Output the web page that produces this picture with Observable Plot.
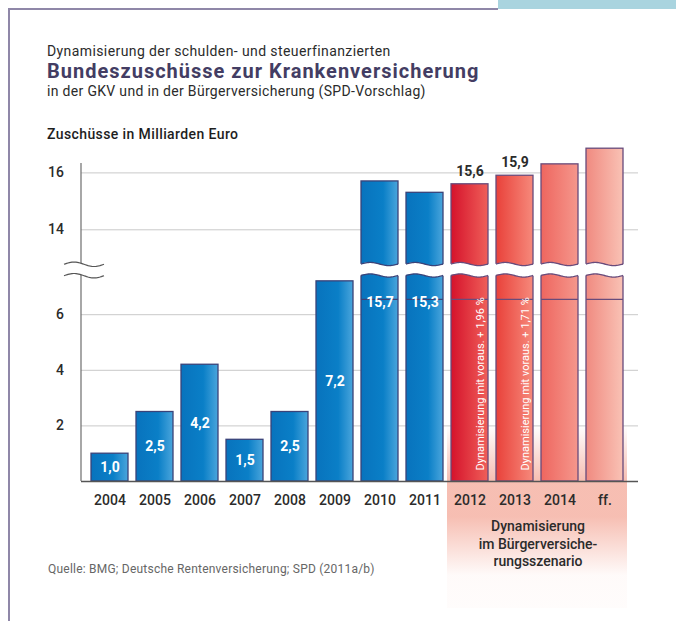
<!DOCTYPE html>
<html>
<head>
<meta charset="utf-8">
<script src="https://cdn.jsdelivr.net/npm/d3@7"></script>
<script src="https://cdn.jsdelivr.net/npm/@observablehq/plot@0.6"></script>
<style>
html, body { margin: 0; padding: 0; background: #ffffff; }
#wrap { position: relative; width: 676px; height: 621px; overflow: hidden; font-family: Roboto, "Noto Sans", sans-serif; }
#chart { position: absolute; left: 0; top: 0; }
.t { position: absolute; white-space: nowrap; line-height: 1; color: #2b2b2b; }
</style>
</head>
<body>
<div id="wrap">
  <div style="position:absolute;left:498px;top:0;width:178px;height:9px;background:#a9d4df"></div>
  <div style="position:absolute;left:8px;top:8px;width:490px;height:1.5px;background:#8f87a8"></div>
  <div style="position:absolute;left:8px;top:8px;width:1.5px;height:613px;background:#8f87a8"></div>
  <div id="chart"></div>
  <div class="t" id="kicker" style="left:47px;top:43.8px;font-size:14px;letter-spacing:0.4px;"></div>
  <div class="t" id="title" style="left:47px;top:61px;font-size:20px;font-weight:700;letter-spacing:1px;color:#433d63;"></div>
  <div class="t" id="subtitle" style="left:47px;top:84.1px;font-size:14px;letter-spacing:0.32px;"></div>
  <div class="t" id="unit" style="left:47px;top:127.2px;font-size:14px;font-weight:500;letter-spacing:0.4px;color:#1e1e1e;"></div>
  <div class="t" id="scenario" style="left:447px;top:518px;width:182px;text-align:center;font-size:14px;font-weight:500;line-height:17.5px;white-space:normal;"></div>
  <div class="t" id="source" style="left:48px;top:562.5px;font-size:12px;letter-spacing:0.22px;color:#666;"></div>
</div>
<script>
// ---------- texts ----------
const kickerText = "Dynamisierung der schulden- und steuerfinanzierten";
const titleText = "Bundeszuschüsse zur Krankenversicherung";
const subtitleText = "in der GKV und in der Bürgerversicherung (SPD-Vorschlag)";
const unitText = "Zuschüsse in Milliarden Euro";
const scenarioLines = ["Dynamisierung", "im Bürgerversiche-", "rungsszenario"];
const sourceText = "Quelle: BMG; Deutsche Rentenversicherung; SPD (2011a/b)";

// ---------- data ----------
const years = ["2004", "2005", "2006", "2007", "2008", "2009", "2010", "2011", "2012", "2013", "2014", "ff."];
const values = [1.0, 2.5, 4.2, 1.5, 2.5, 7.2, 15.7, 15.3, 15.6, 15.9, 16.3, 16.85];
const valueLabels = ["1,0", "2,5", "4,2", "1,5", "2,5", "7,2", "15,7", "15,3", "15,6", "15,9", "", ""];
const outsideLabelYears = ["2012", "2013"];
const noteYears = ["2012", "2013"];
const noteTexts = ["Dynamisierung mit voraus. + 1,96 %", "Dynamisierung mit voraus. + 1,71 %"];
const scenarioYears = ["2012", "2013", "2014", "ff."];
const yTicks = [2, 4, 6, 14, 16];

// axis break (values between lowBreak and highBreak are cut out)
const lowBreak = 7.59;
const highBreak = 12.57;
const yTop = 16.33;
const segmentLine = 6.55;   // inner segment line of the broken bars
const brokenLabelAt = 6.45; // label position in the broken bars

document.getElementById("kicker").textContent = kickerText;
document.getElementById("title").textContent = titleText;
document.getElementById("subtitle").textContent = subtitleText;
document.getElementById("unit").textContent = unitText;
document.getElementById("scenario").innerHTML = scenarioLines.join("<br>");
document.getElementById("source").textContent = sourceText;

const data = years.map((year, i) => ({year, value: values[i], label: valueLabels[i]}));
const gradId = {"2012": "gR1", "2013": "gR2", "2014": "gR3", "ff.": "gR4"};
const blueData = data.filter(d => !scenarioYears.includes(d.year));
const broken = data.filter(d => d.value > lowBreak);
const inside = data.filter(d => d.label && !outsideLabelYears.includes(d.year));
const outside = data.filter(d => d.label && outsideLabelYears.includes(d.year));
const notes = noteYears.map((year, i) => ({year, text: noteTexts[i]}));

const W = 676, H = 621, ML = 81, MR = 38, MT = 163, MB = 140;
const base = H - MB;              // pixel of value 0
const breakPx = base - lowBreak * 27.8;

const blueStroke = "#3a4379";
const redStroke = "#684b7b";

function bw(x) { return typeof x.bandwidth === "function" ? x.bandwidth() : x.bandwidth; }
function wave(x0, x1, yc, amp, n = 30) {
  const pts = [];
  for (let i = 0; i <= n; i++) {
    const t = i / n;
    pts.push([x0 + (x1 - x0) * t, yc - amp * Math.sin(2 * Math.PI * t)]);
  }
  return pts;
}

const defs = () => {
  const g = d3.create("svg:g");
  const d = g.append("defs");
  const lin = (id, stops, vertical) => {
    const lg = d.append("linearGradient").attr("id", id)
      .attr("x1", 0).attr("y1", 0).attr("x2", vertical ? 0 : 1).attr("y2", vertical ? 1 : 0);
    stops.forEach(([o, c, op]) => lg.append("stop").attr("offset", o).attr("stop-color", c).attr("stop-opacity", op == null ? 1 : op));
  };
  lin("gBlue", [[0, "#0873bd"], [0.6, "#0a7fc7"], [1, "#4aa5dc"]]);
  lin("gR1", [[0, "#d5122b"], [1, "#ef5f59"]]);
  lin("gR2", [[0, "#e9413a"], [1, "#f6897b"]]);
  lin("gR3", [[0, "#ee665f"], [1, "#f5978c"]]);
  lin("gR4", [[0, "#f08a80"], [1, "#f9c2b5"]]);
  lin("gPink", [[0, "#f5b3a5", 0], [0.3, "#f5b3a5", 0.85], [0.5, "#f5b3a5", 0.85], [0.82, "#f5b3a5", 0.06], [1, "#f5b3a5", 0.04]], true);
  return g.node();
};

const pinkBg = (index, scales) => {
  const x = scales.x, y = scales.y, b = bw(x);
  const step = x(years[1]) - x(years[0]);
  const pad = (step - b) / 2;
  const x0 = x(scenarioYears[0]) - pad;
  const x1 = x(scenarioYears[scenarioYears.length - 1]) + b + pad;
  const y0 = y(yTicks[0]);
  return d3.create("svg:rect")
    .attr("x", x0).attr("y", y0).attr("width", x1 - x0).attr("height", (y(0) + 127) - y0)
    .attr("fill", "url(#gPink)").node();
};

const breaks = (index, scales, values, dims) => {
  const x = scales.x, y = scales.y, b = bw(x);
  const g = d3.create("svg:g");
  const yb = y(lowBreak);
  const yU = yb - 6, yL = yb + 5.5;
  const line = d3.line();
  // y axis line
  g.append("line").attr("x1", dims.marginLeft).attr("x2", dims.marginLeft)
    .attr("y1", y(0)).attr("y2", dims.marginTop).attr("stroke", "#6d6d6d").attr("stroke-width", 1.2);
  // axis squiggles
  const ax0 = dims.marginLeft - 17, ax1 = dims.marginLeft + 23;
  const up = wave(ax0, ax1, yU + 0.3, 2.2), lo = wave(ax0, ax1, yL + 0.2, 2.2);
  g.append("path").attr("d", line(up.concat(lo.slice().reverse())) + "Z").attr("fill", "#fff");
  g.append("path").attr("d", line(up)).attr("fill", "none").attr("stroke", "#555").attr("stroke-width", 1.2);
  g.append("path").attr("d", line(lo)).attr("fill", "none").attr("stroke", "#555").attr("stroke-width", 1.2);
  // bar breaks
  for (const d of broken) {
    const xs = x(d.year);
    const stroke = scenarioYears.includes(d.year) ? redStroke : blueStroke;
    const u = wave(xs - 1.5, xs + b + 1.5, yU, 1.6), l = wave(xs - 1.5, xs + b + 1.5, yL, 1.6);
    g.append("path").attr("d", line(u.concat(l.slice().reverse())) + "Z").attr("fill", "#fff");
    g.append("path").attr("d", line(wave(xs, xs + b, yU, 1.6))).attr("fill", "none").attr("stroke", stroke).attr("stroke-width", 1.3);
    g.append("path").attr("d", line(wave(xs, xs + b, yL, 1.6))).attr("fill", "none").attr("stroke", stroke).attr("stroke-width", 1.3);
  }
  return g.node();
};

const chart = Plot.plot({
  width: W, height: H,
  marginLeft: ML, marginRight: MR, marginTop: MT, marginBottom: MB,
  style: {background: "transparent", fontFamily: "Roboto, 'Noto Sans', sans-serif", color: "#2b2b2b"},
  x: {type: "band", domain: years, paddingInner: 0.17, paddingOuter: 0.245, align: 0.4, label: null},
  y: {type: "linear", domain: [0, lowBreak, highBreak, yTop], range: [base, breakPx, breakPx, MT], label: null},
  marks: [
    defs,
    pinkBg,
    Plot.ruleY(yTicks, {stroke: "#c9c9c9", strokeWidth: 1}),
    Plot.axisX({tickSize: 0, tickPadding: 14, fontSize: 14, fontWeight: 500, label: null}),
    Plot.axisY({ticks: yTicks, tickSize: 0, tickPadding: 17.5, fontSize: 14, fontWeight: 500, label: null}),
    Plot.barY(blueData, {x: "year", y: "value", fill: "url(#gBlue)", stroke: blueStroke, strokeWidth: 1.3}),
    ...scenarioYears.map(yr => Plot.barY(data.filter(d => d.year === yr), {x: "year", y: "value", fill: `url(#${gradId[yr]})`, stroke: redStroke, strokeWidth: 1.3})),
    Plot.tickY(broken, {x: "year", y: () => segmentLine, stroke: d => scenarioYears.includes(d.year) ? redStroke : blueStroke, strokeWidth: 1.2}),
    Plot.ruleY([0], {stroke: "#555", strokeWidth: 1.5}),
    breaks,
    Plot.text(inside, {x: "year", y: d => d.value < lowBreak ? d.value / 2 : brokenLabelAt, text: "label", fill: "white", fontSize: 14, fontWeight: "bold"}),
    Plot.text(outside, {x: "year", y: "value", text: "label", dy: -13, fill: "#2b2b2b", fontSize: 14, fontWeight: "bold"}),
    Plot.text(notes, {x: "year", y: () => 0, text: "text", rotate: -90, textAnchor: "start", dx: 10, dy: -11, fill: "white", fontSize: 11})
  ]
});
document.getElementById("chart").appendChild(chart);
</script>
</body>
</html>
